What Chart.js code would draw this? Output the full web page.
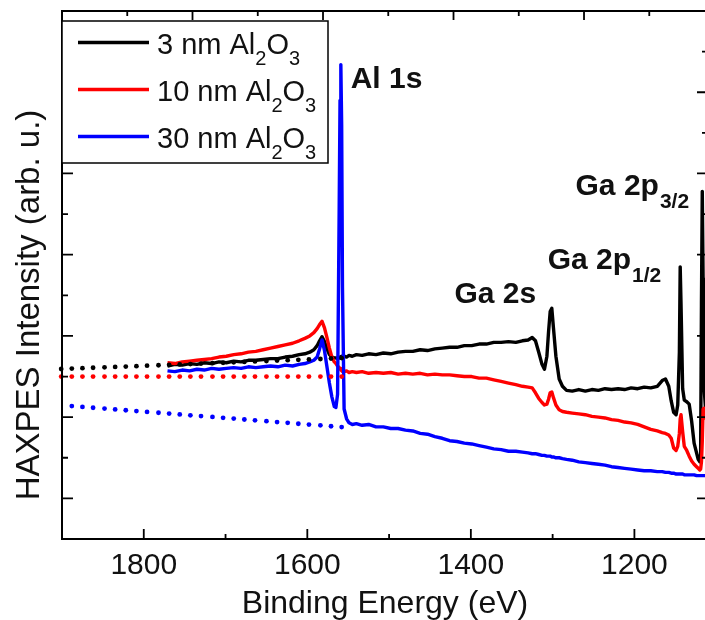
<!DOCTYPE html>
<html>
<head>
<meta charset="utf-8">
<title>HAXPES survey</title>
<script src="https://cdn.jsdelivr.net/npm/chart.js@4.4.1/dist/chart.umd.min.js"></script>
<style>
  html, body { margin: 0; padding: 0; background: #fff; overflow: hidden; }
  #wrap { width: 712px; height: 620px; }
</style>
</head>
<body>
<div id="wrap"><canvas id="chart" width="712" height="620"></canvas></div>
<script>
// binding energy grid (eV) for the measured spectra
const energy = [
  1771, 1762, 1753, 1744, 1735, 1726, 1717, 1708, 1699, 1690, 1681, 1672, 1663, 1654, 1645, 1636,
  1627, 1618, 1610, 1603, 1597, 1592, 1588, 1585, 1582, 1579, 1576, 1573, 1570, 1567, 1565, 1563,
  1561, 1560, 1559, 1558, 1557, 1555, 1552, 1549, 1545, 1540, 1533, 1525, 1516, 1507, 1498, 1489,
  1480, 1471, 1462, 1453, 1444, 1435, 1426, 1417, 1408, 1399, 1390, 1381, 1372, 1363, 1354, 1345,
  1337, 1330, 1325, 1321, 1317, 1313, 1310, 1307, 1305, 1303, 1301, 1299, 1296, 1292, 1288, 1283,
  1276, 1268, 1260, 1252, 1244, 1236, 1228, 1220, 1212, 1204, 1196, 1188, 1180, 1172, 1166, 1162,
  1158, 1155, 1152, 1149, 1147, 1145, 1144, 1143, 1141, 1139, 1136, 1133, 1130, 1127, 1124, 1122,
  1120, 1119, 1118, 1117, 1116, 1115, 1113, 1111
];

// intensities (arb. u.)
const al3nm = [
  1.63, 1.65, 1.64, 1.66, 1.65, 1.67, 1.66, 1.68, 1.67, 1.69, 1.68, 1.70, 1.70, 1.71, 1.72, 1.72,
  1.74, 1.75, 1.77, 1.78, 1.80, 1.83, 1.88, 1.94, 1.99, 1.93, 1.84, 1.77, 1.74, 1.73, 1.73, 1.72,
  1.73, 1.74, 1.74, 1.75, 1.74, 1.75, 1.74, 1.76, 1.75, 1.77, 1.76, 1.78, 1.77, 1.79, 1.78, 1.80,
  1.81, 1.81, 1.83, 1.82, 1.84, 1.85, 1.86, 1.86, 1.88, 1.88, 1.90, 1.90, 1.92, 1.92, 1.93, 1.92,
  1.94, 1.95, 1.98, 1.94, 1.80, 1.65, 1.59, 1.75, 2.05, 2.30, 2.34, 2.10, 1.75, 1.47, 1.38, 1.33,
  1.32, 1.34, 1.32, 1.34, 1.33, 1.35, 1.34, 1.35, 1.34, 1.36, 1.35, 1.37, 1.36, 1.38, 1.45, 1.47,
  1.38, 1.20, 1.06, 1.03, 1.15, 1.80, 2.85, 2.40, 1.35, 1.21, 1.19, 1.16, 0.95, 0.68, 0.56, 0.48,
  0.45, 0.55, 2.40, 3.78, 2.70, 1.40, 1.10, 1.00
];
const al10nm = [
  1.67, 1.66, 1.68, 1.69, 1.70, 1.71, 1.72, 1.74, 1.75, 1.77, 1.78, 1.80, 1.81, 1.83, 1.85, 1.87,
  1.89, 1.91, 1.94, 1.97, 2.00, 2.04, 2.09, 2.14, 2.18, 2.10, 1.98, 1.85, 1.74, 1.68, 1.66, 1.63,
  1.61, 1.60, 1.58, 1.57, 1.56, 1.56, 1.57, 1.55, 1.56, 1.55, 1.56, 1.54, 1.55, 1.54, 1.55, 1.53,
  1.54, 1.53, 1.54, 1.52, 1.53, 1.52, 1.52, 1.51, 1.50, 1.50, 1.48, 1.48, 1.46, 1.44, 1.42, 1.40,
  1.38, 1.37, 1.36, 1.30, 1.23, 1.18, 1.15, 1.16, 1.22, 1.30, 1.31, 1.24, 1.15, 1.09, 1.07, 1.06,
  1.05, 1.04, 1.03, 1.01, 1.00, 0.99, 0.97, 0.96, 0.94, 0.93, 0.91, 0.88, 0.85, 0.83, 0.81, 0.80,
  0.78, 0.74, 0.62, 0.59, 0.64, 0.80, 0.98, 1.03, 0.82, 0.64, 0.59, 0.52, 0.46, 0.42, 0.39, 0.37,
  0.35, 0.36, 0.45, 0.70, 1.10, 1.11, 1.00, 0.95
];
const al30nm = [
  1.57, 1.56, 1.58, 1.57, 1.59, 1.58, 1.60, 1.59, 1.60, 1.61, 1.60, 1.62, 1.61, 1.62, 1.63, 1.62,
  1.64, 1.63, 1.65, 1.66, 1.68, 1.70, 1.74, 1.84, 1.95, 1.82, 1.62, 1.42, 1.25, 1.13, 1.12, 1.28,
  3.60, 4.90, 5.34, 4.60, 2.60, 1.10, 0.98, 0.93, 0.91, 0.92, 0.90, 0.91, 0.88, 0.88, 0.86, 0.86,
  0.84, 0.83, 0.80, 0.79, 0.76, 0.74, 0.71, 0.70, 0.68, 0.67, 0.65, 0.63, 0.61, 0.60, 0.58, 0.58,
  0.57, 0.56, 0.55, 0.55, 0.54, 0.53, 0.53, 0.52, 0.52, 0.52, 0.51, 0.51, 0.50, 0.50, 0.49, 0.48,
  0.47, 0.45, 0.44, 0.43, 0.42, 0.41, 0.39, 0.38, 0.37, 0.36, 0.35, 0.34, 0.34, 0.33, 0.33, 0.32,
  0.32, 0.31, 0.31, 0.30, 0.30, 0.30, 0.30, 0.30, 0.30, 0.29, 0.29, 0.29, 0.29, 0.29, 0.28, 0.28,
  0.28, 0.28, 0.28, 0.28, 0.28, 0.28, 0.28, 0.28
];

// dotted backgrounds on the high binding energy side
const bgEnergy = [
  1558, 1571, 1584, 1598, 1611, 1624, 1637, 1650, 1664, 1677, 1690, 1703, 1716, 1730,
  1743, 1756, 1769, 1782, 1796, 1809, 1822, 1835, 1848, 1862, 1875, 1888, 1901
];
const bg3nm = [
  1.727, 1.722, 1.716, 1.711, 1.706, 1.701, 1.696, 1.691, 1.686, 1.680, 1.675, 1.670, 1.665, 1.660,
  1.654, 1.649, 1.644, 1.639, 1.634, 1.628, 1.623, 1.618, 1.613, 1.608, 1.603, 1.598, 1.593
];
const bg10nm = [
  1.50, 1.50, 1.50, 1.50, 1.50, 1.50, 1.50, 1.50, 1.50, 1.50, 1.50, 1.50, 1.50, 1.50,
  1.50, 1.50, 1.50, 1.50, 1.50, 1.50, 1.50, 1.50, 1.50, 1.50, 1.50, 1.50, 1.50
];
const bg30nm = [
  0.878, 0.888, 0.899, 0.909, 0.919, 0.930, 0.940, 0.950, 0.961, 0.971, 0.982, 0.992, 1.003, 1.013,
  1.023, 1.033, 1.044, 1.054, 1.064, 1.075, 1.085, 1.095, 1.105, 1.116, 1.126, 1.137, null
];

const seriesNames = ['3 nm Al', '10 nm Al', '30 nm Al'];
const seriesColors = ['#000000', '#ff0000', '#0000ff'];
const tickE = [1900, 1800, 1700, 1600, 1500, 1400, 1300, 1200];
const labelledE = [1200, 1400, 1600, 1800];

const FONT = 'Liberation Sans, Arial, sans-serif';
const pts = (xs, ys) => xs.map((x, i) => ({ x: x, y: ys[i] }));

const solid = (data, color) => ({
  data: data, showLine: true, borderColor: color, borderWidth: 3.4,
  borderJoinStyle: 'round', pointRadius: 0, tension: 0
});
const dots = (data, color) => ({
  data: data, showLine: false, pointRadius: 2.4, pointBorderWidth: 0,
  pointBackgroundColor: color, clip: false
});

// frame, inward ticks, legend, peak labels, y title
const decor = {
  id: 'decor',
  afterDatasetsDraw(chart) {
    const { ctx, chartArea: a, scales } = chart;
    const x = scales.x, y = scales.y, x2 = scales.x2;
    ctx.save();
    ctx.strokeStyle = '#000';
    ctx.lineWidth = 2;
    ctx.strokeRect(a.left, a.top, a.right - a.left, a.bottom - a.top);

    ctx.lineWidth = 1.8;
    ctx.beginPath();
    tickE.forEach(e => {
      const px = x.getPixelForValue(e);
      const len = labelledE.includes(e) ? 10 : 5;
      ctx.moveTo(px, a.bottom); ctx.lineTo(px, a.bottom - len);
    });
    for (let k = 1; k <= 9; k++) {
      const px = x2.getPixelForValue(k);
      const len = k % 2 === 0 ? 9 : 5;
      ctx.moveTo(px, a.top); ctx.lineTo(px, a.top + len);
    }
    for (let v = 0; v <= 5.5; v += 0.5) {
      const py = y.getPixelForValue(v);
      const len = v % 1 === 0 ? 11 : 6;
      ctx.moveTo(a.left, py); ctx.lineTo(a.left + len, py);
      ctx.moveTo(a.right, py); ctx.lineTo(a.right - len, py);
    }
    ctx.stroke();

    // legend box
    const lx = a.left, ly = a.top + 10, lw = 266, lh = 142;
    ctx.fillStyle = '#fff';
    ctx.fillRect(lx, ly, lw, lh);
    ctx.lineWidth = 1.5;
    ctx.strokeRect(lx, ly, lw, lh);
    seriesNames.forEach((name, i) => {
      const cy = ly + 21.5 + i * 47;
      ctx.strokeStyle = seriesColors[i];
      ctx.lineWidth = 3.3;
      ctx.beginPath();
      ctx.moveTo(lx + 16, cy); ctx.lineTo(lx + 87, cy);
      ctx.stroke();
      ctx.fillStyle = '#111';
      ctx.textBaseline = 'alphabetic';
      ctx.textAlign = 'left';
      let tx = lx + 95;
      const base = cy + 11;
      ctx.font = '29px ' + FONT;
      ctx.fillText(name, tx, base); tx += ctx.measureText(name).width;
      ctx.font = '20px ' + FONT;
      ctx.fillText('2', tx, base + 11.5); tx += ctx.measureText('2').width;
      ctx.font = '29px ' + FONT;
      ctx.fillText('O', tx, base); tx += ctx.measureText('O').width;
      ctx.font = '20px ' + FONT;
      ctx.fillText('3', tx, base + 11.5);
    });

    // peak labels anchored in data space
    const peaks = [
      { text: 'Al 1s', sub: '', e: 1547, v: 5.05 },
      { text: 'Ga 2s', sub: '', e: 1420, v: 2.40 },
      { text: 'Ga 2p', sub: '1/2', e: 1306, v: 2.83 },
      { text: 'Ga 2p', sub: '3/2', e: 1272, v: 3.74 }
    ];
    ctx.fillStyle = '#111';
    peaks.forEach(p => {
      const px = x.getPixelForValue(p.e), py = y.getPixelForValue(p.v);
      ctx.font = 'bold 30px ' + FONT;
      ctx.fillText(p.text, px, py);
      if (p.sub) {
        const w = ctx.measureText(p.text).width;
        ctx.font = 'bold 21px ' + FONT;
        ctx.fillText(p.sub, px + w + 1, py + 13);
      }
    });

    // y axis title
    ctx.translate(39, 305);
    ctx.rotate(-Math.PI / 2);
    ctx.textAlign = 'center';
    ctx.font = '33px ' + FONT;
    ctx.fillText('HAXPES Intensity (arb. u.)', 0, 0);
    ctx.restore();
  }
};

new Chart(document.getElementById('chart'), {
  type: 'scatter',
  data: {
    datasets: [
      dots(pts(bgEnergy, bg3nm), seriesColors[0]),
      dots(pts(bgEnergy, bg10nm), seriesColors[1]),
      dots(pts(bgEnergy, bg30nm), seriesColors[2]),
      solid(pts(energy, al30nm), seriesColors[2]),
      solid(pts(energy, al10nm), seriesColors[1]),
      solid(pts(energy, al3nm), seriesColors[0])
    ]
  },
  options: {
    responsive: false,
    animation: false,
    devicePixelRatio: 1,
    layout: { padding: { left: 62, right: 4, top: 11, bottom: 0 } },
    plugins: { legend: { display: false }, tooltip: { enabled: false } },
    scales: {
      x: {
        type: 'linear', position: 'bottom', reverse: true, min: 1110, max: 1900,
        grid: { display: false, drawTicks: false },
        border: { display: false },
        afterBuildTicks: axis => { axis.ticks = tickE.map(v => ({ value: v })); },
        ticks: {
          autoSkip: false, maxRotation: 0, padding: 9, color: '#111',
          font: { family: FONT, size: 30 },
          callback: v => labelledE.includes(v) ? String(v) : ''
        },
        title: {
          display: true, text: 'Binding Energy (eV)', color: '#111',
          font: { family: FONT, size: 32, lineHeight: 1 },
          padding: { top: -5, bottom: 0 }
        }
      },
      x2: { type: 'linear', display: false, min: 0, max: 9.9 },
      y: { display: false, min: -0.5, max: 6 }
    }
  },
  plugins: [decor]
});
</script>
</body>
</html>
